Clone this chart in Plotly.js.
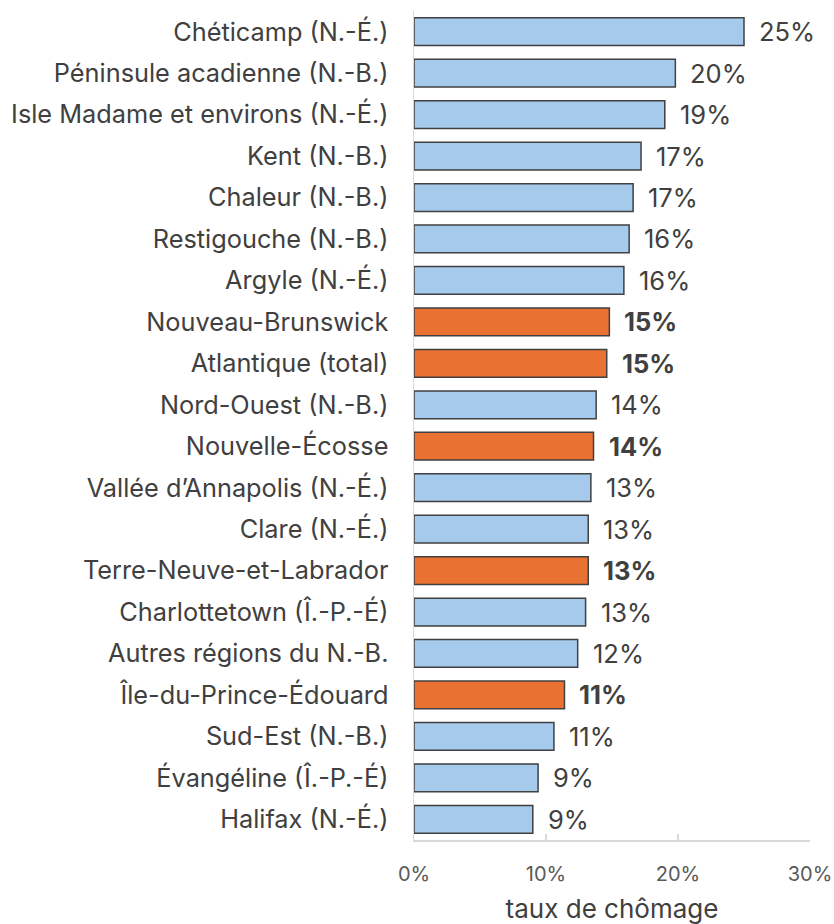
<!DOCTYPE html>
<html>
<head>
<meta charset="utf-8">
<script src="https://cdn.plot.ly/plotly-3.0.1.min.js"></script>
<style>html,body{margin:0;padding:0;background:#fff;}#chart{width:834px;height:924px;}</style>
</head>
<body>
<div id="chart"></div>
<script>
const categories = [
  "Chéticamp (N.-É.)",
  "Péninsule acadienne (N.-B.)",
  "Isle Madame et environs (N.-É.)",
  "Kent (N.-B.)",
  "Chaleur (N.-B.)",
  "Restigouche (N.-B.)",
  "Argyle (N.-É.)",
  "Nouveau-Brunswick",
  "Atlantique (total)",
  "Nord-Ouest (N.-B.)",
  "Nouvelle-Écosse",
  "Vallée d’Annapolis (N.-É.)",
  "Clare (N.-É.)",
  "Terre-Neuve-et-Labrador",
  "Charlottetown (Î.-P.-É)",
  "Autres régions du N.-B.",
  "Île-du-Prince-Édouard",
  "Sud-Est (N.-B.)",
  "Évangéline (Î.-P.-É)",
  "Halifax (N.-É.)"
];
const rates = [0.250, 0.198, 0.190, 0.172, 0.166, 0.163, 0.159, 0.148, 0.146, 0.138, 0.136, 0.134, 0.132, 0.132, 0.130, 0.124, 0.114, 0.106, 0.094, 0.090];
const isProvince = [false,false,false,false,false,false,false,true,true,false,true,false,false,true,false,false,true,false,false,false];
const xTicks = [0, 0.1, 0.2, 0.3];
const xTickLabels = ["0%", "10%", "20%", "30%"];

const FONT = "Inter, 'Noto Sans', 'Open Sans', sans-serif";
const TXT = "#404040";
const BLUE = "#A6CAEC";
const ORANGE = "#E97132";

const trace = {
  type: "bar",
  orientation: "h",
  x: rates,
  y: categories,
  marker: {
    color: isProvince.map(p => p ? ORANGE : BLUE),
    line: {color: "#404040", width: 1.5}
  },
  hoverinfo: "none"
};

const annotations = categories.map((c, i) => ({
  x: rates[i],
  y: c,
  xref: "x",
  yref: "y",
  text: isProvince[i] ? "<b>" + Math.round(rates[i]*100) + "%</b>" : Math.round(rates[i]*100) + "%",
  showarrow: false,
  xanchor: "left",
  yanchor: "middle",
  xshift: 13,
  font: {family: FONT, size: 25.5, color: TXT}
}));

const layout = {
  width: 834,
  height: 924,
  margin: {l: 413.5, r: 24, t: 11, b: 84},
  paper_bgcolor: "#ffffff",
  plot_bgcolor: "#ffffff",
  showlegend: false,
  bargap: 0.33,
  font: {family: FONT, color: TXT},
  xaxis: {
    range: [0, 0.3],
    tickvals: xTicks,
    ticktext: xTickLabels,
    showgrid: false,
    zeroline: false,
    showline: true,
    linecolor: "#d9d9d9",
    linewidth: 1.5,
    ticks: "inside",
    ticklen: 6,
    tickcolor: "#d9d9d9",
    tickwidth: 1.5,
    ticklabelstandoff: 15,
    tickfont: {family: FONT, size: 20, color: "#595959"},
    title: {text: "taux de chômage", font: {family: FONT, size: 26, color: "#404040"}, standoff: 19},
    automargin: false,
    fixedrange: true
  },
  yaxis: {
    type: "category",
    autorange: "reversed",
    showgrid: false,
    zeroline: false,
    showline: true,
    linecolor: "#d9d9d9",
    linewidth: 1.5,
    ticks: "",
    ticklabelstandoff: 19,
    tickfont: {family: FONT, size: 25.3, color: "#404040"},
    automargin: false,
    fixedrange: true
  },
  annotations: annotations
};

Plotly.newPlot("chart", [trace], layout, {displayModeBar: false, staticPlot: true});
</script>
</body>
</html>
